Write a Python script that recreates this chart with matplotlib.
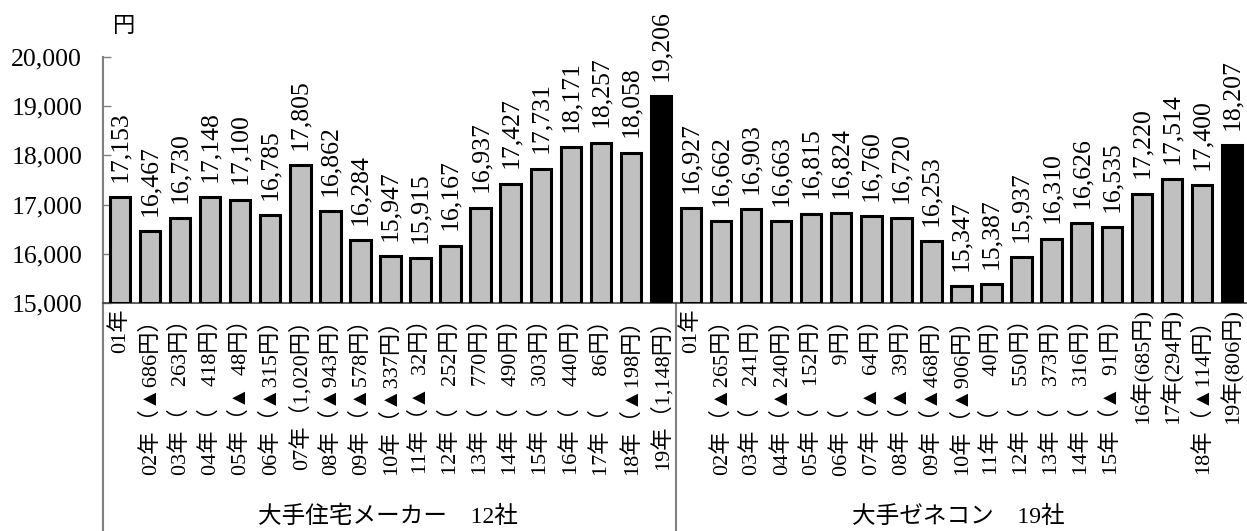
import matplotlib
matplotlib.use("Agg")
import matplotlib.pyplot as plt
from matplotlib.transforms import blended_transform_factory

# ---- data ----
group_names = ["大手住宅メーカー　12社", "大手ゼネコン　19社"]
house_values = [17153, 16467, 16730, 17148, 17100, 16785, 17805, 16862, 16284,
                15947, 15915, 16167, 16937, 17427, 17731, 18171, 18257, 18058, 19206]
gene_values = [16927, 16662, 16903, 16663, 16815, 16824, 16760, 16720, 16253,
               15347, 15387, 15937, 16310, 16626, 16535, 17220, 17514, 17400, 18207]
house_labels = ["01年", "02年（▲686円）", "03年（　263円）", "04年（　418円）",
                "05年（▲  48円）", "06年（▲315円）", "07年（1,020円）", "08年（▲943円）",
                "09年（▲578円）", "10年（▲337円）", "11年（▲  32円）", "12年（　252円）",
                "13年（　770円）", "14年（　490円）", "15年（　303円）", "16年（　440円）",
                "17年（　  86円）", "18年（▲198円）", "19年（1,148円）"]
gene_labels = ["01年", "02年（▲265円）", "03年（　241円）", "04年（▲240円）",
               "05年（　152円）", "06年（　    9円）", "07年（▲  64円）", "08年（▲  39円）",
               "09年（▲468円）", "10年（▲906円）", "11年（　  40円）", "12年（　550円）",
               "13年（　373円）", "14年（　316円）", "15年（▲  91円）", "16年(685円)",
               "17年(294円)", "18年（▲114円）", "19年(806円)"]
y_ticks = [15000, 16000, 17000, 18000, 19000, 20000]
unit_label = "円"

W, H = 1247, 531
fig = plt.figure(figsize=(W / 100, H / 100), dpi=100)
ax_l, ax_r, ax_top, ax_bot = 103, 1247, 57, 303
ax = fig.add_axes([ax_l / W, (H - ax_bot) / H, (ax_r - ax_l) / W, (ax_bot - ax_top) / H])

values = house_values + gene_values
labels = house_labels + gene_labels
n1 = len(house_values)
xs = list(range(len(values)))
colors = ["#c0c0c0"] * len(values)
colors[n1 - 1] = "black"
colors[-1] = "black"

ax.bar(xs, [v - y_ticks[0] for v in values], bottom=y_ticks[0], width=0.68,
       color=colors, edgecolor="black", linewidth=2.2, zorder=3)

serif = ["Liberation Serif", "Noto Sans CJK JP"]
for x, v in zip(xs, values):
    ax.annotate(f"{v:,}", (x, v), xytext=(0, 11), textcoords="offset points",
                rotation=90, ha="center", va="bottom", fontsize=18.5,
                family=serif, annotation_clip=False)

left_lim = -(120 - ax_l) / 30.05
ax.set_xlim(left_lim, len(values) - 0.5)
ax.set_ylim(y_ticks[0], y_ticks[-1])
ax.set_yticks(y_ticks)
ax.set_yticklabels([f"{t:,}" for t in y_ticks], family=serif, fontsize=18.5)
ax.tick_params(axis="y", direction="in", length=6, width=1, color="#808080", pad=15)
ax.set_xticks(xs)
ax.set_xticklabels(labels, rotation=90, va="top", ha="center", fontsize=16,
                   family=serif)
ax.tick_params(axis="x", length=0, pad=4)

for s in ["top", "right"]:
    ax.spines[s].set_visible(False)
ax.spines["bottom"].set_color("#404040")
ax.spines["bottom"].set_linewidth(1.2)
ax.spines["left"].set_color("#808080")
ax.spines["left"].set_linewidth(1.5)
ax.spines["left"].set_bounds(y_ticks[0], y_ticks[-1])

# left spine and group divider extending down to bottom
trans = blended_transform_factory(ax.transData, fig.transFigure)
ax.plot([left_lim, left_lim], [0, (H - ax_bot) / H], transform=trans,
        color="#808080", lw=1.5, clip_on=False)
ax.plot([n1 - 0.5, n1 - 0.5], [0, (H - ax_bot) / H], transform=trans,
        color="#808080", lw=1.5, clip_on=False)

# group labels
gy = 1 - 517 / H
ax.text((n1 - 1) / 2 - 0.1, gy, group_names[0], transform=trans, ha="center", va="center",
        fontsize=17, family=serif)
ax.text(n1 + (len(gene_values) - 1) / 2 - 0.1, gy, group_names[1], transform=trans,
        ha="center", va="center", fontsize=17, family=serif)

fig.text(124 / W, 1 - 27 / H, unit_label, ha="center", va="center", fontsize=16,
         family=serif)

fig.savefig("out.png", dpi=100)
